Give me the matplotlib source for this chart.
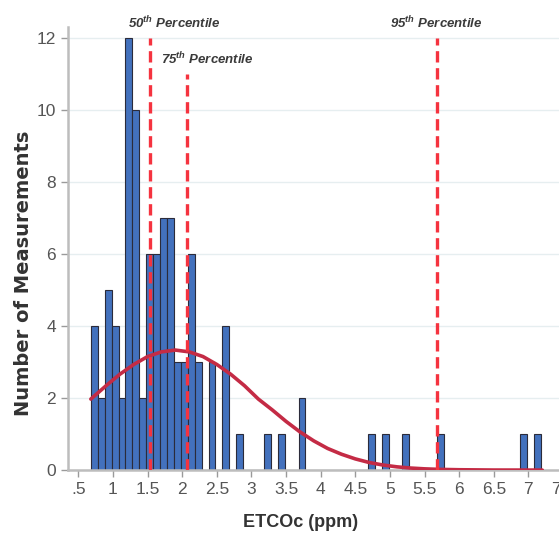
import numpy as np
import matplotlib.pyplot as plt

# Histogram of ETCOc measurements (bins of 0.1 ppm starting at 0.68)
bin_start = 0.68
bin_width = 0.1
counts = [4, 2, 5, 4, 2, 12, 10, 2, 6, 6, 7, 7, 3, 3, 6, 3, 0, 3, 0, 4,
          0, 1, 0, 0, 0, 1, 0, 1, 0, 0, 2, 0, 0, 0, 0, 0, 0, 0, 0, 0,
          1, 0, 1, 0, 0, 1, 0, 0, 0, 0, 1, 0, 0, 0, 0, 0, 0, 0, 0, 0,
          0, 0, 1, 0, 1]

# fitted normal curve
curve_x = [0.68, 0.9, 1.1, 1.3, 1.5, 1.7, 1.9, 2.1, 2.3, 2.5, 2.7, 2.9, 3.1,
           3.3, 3.5, 3.7, 3.9, 4.1, 4.3, 4.5, 4.7, 4.9, 5.1, 5.3, 5.5, 5.7,
           6.0, 6.5, 7.0, 7.2]
curve_y = [1.97, 2.34, 2.66, 2.93, 3.15, 3.28, 3.33, 3.28, 3.15, 2.93, 2.66,
           2.34, 1.97, 1.67, 1.35, 1.06, 0.81, 0.60, 0.44, 0.31, 0.21, 0.14,
           0.09, 0.056, 0.034, 0.02, 0.009, 0.001, 0.0, 0.0]

# percentile lines: position, line top, label
pct_x = [1.54, 2.07, 5.68]
pct_top = [12, 11, 12]
pct_labels = [r"50$^{\mathregular{th}}$ Percentile",
              r"75$^{\mathregular{th}}$ Percentile",
              r"95$^{\mathregular{th}}$ Percentile"]
pct_label_x = [1.88, 2.36, 5.67]
pct_label_y = [12.4, 11.4, 12.4]

xticks = [0.5, 1, 1.5, 2, 2.5, 3, 3.5, 4, 4.5, 5, 5.5, 6, 6.5, 7, 7.5]
xticklabels = [".5", "1", "1.5", "2", "2.5", "3", "3.5", "4", "4.5", "5",
               "5.5", "6", "6.5", "7", "7.5"]

plt.rcParams['font.family'] = ['Liberation Sans', 'DejaVu Sans']

fig = plt.figure(figsize=(5.59, 5.36), dpi=100)
ax = fig.add_axes([0.1216, 0.123, 0.898, 0.827])

edges = bin_start + bin_width * np.arange(len(counts))
ax.bar(edges, counts, width=bin_width, align="edge", color="#4371bd",
       edgecolor="#2b2b3a", linewidth=0.8, zorder=2)

ax.plot(curve_x, curve_y, color="#c42b45", linewidth=2.6, zorder=3,
        solid_capstyle="round")

for x, top in zip(pct_x, pct_top):
    ax.vlines(x, 0, top, colors="#f5333f", linewidth=2.4,
              linestyles=(0, (3.4, 1.7)), zorder=4)
for x, y, lab in zip(pct_label_x, pct_label_y, pct_labels):
    ax.text(x, y, lab, ha="center", va="center", fontsize=9.5,
            style="italic", fontweight="bold", color="#3a3a3a",
            clip_on=False)

ax.set_xlim(0.35, 7.6)
ax.set_ylim(0, 12.3)
ax.set_xticks(xticks)
ax.set_xticklabels(xticklabels)
ax.set_yticks([0, 2, 4, 6, 8, 10, 12])
ax.tick_params(axis="both", colors="#9a9a9a", labelcolor="#555555",
               labelsize=12.5, length=5, width=1)

ax.yaxis.grid(True, color="#e6eef0", linewidth=1)
ax.set_axisbelow(True)
for side in ["top", "right"]:
    ax.spines[side].set_visible(False)
for side in ["left", "bottom"]:
    ax.spines[side].set_color("#bdbdbd")
    ax.spines[side].set_linewidth(1.8)

ax.set_ylabel("Number of Measurements", fontsize=14, fontweight="bold",
              color="#333333", family="DejaVu Sans")
ax.yaxis.set_label_coords(-0.07, 0.443)
ax.set_xlabel("ETCOc (ppm)", fontsize=13, fontweight="bold", color="#333333")
ax.xaxis.set_label_coords(0.464, -0.1)

fig.savefig("out.png", dpi=100)
